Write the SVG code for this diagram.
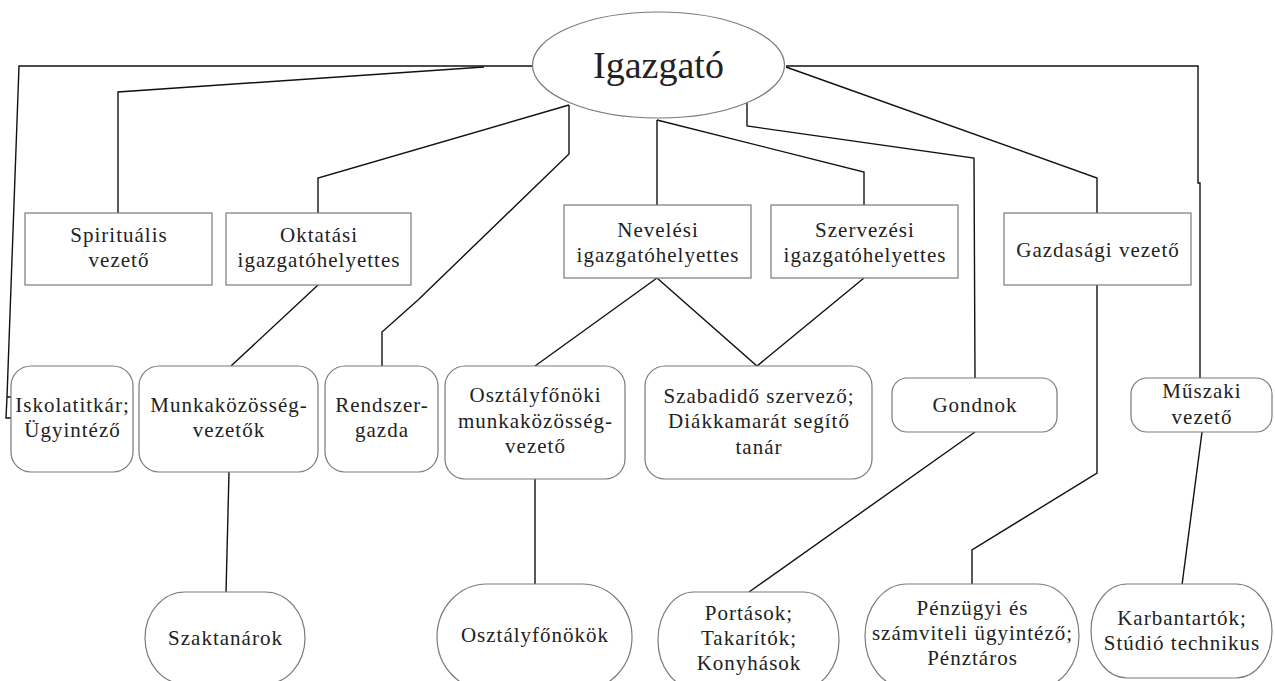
<svg xmlns="http://www.w3.org/2000/svg" width="1275" height="681" viewBox="0 0 1275 681">
<style>
.bg{fill:#ffffff}
.node{fill:#ffffff;stroke:#7a7a7a;stroke-width:1.2}
.conn{fill:none;stroke:#111;stroke-width:1.4;stroke-linejoin:miter}
.t{font-family:'Liberation Serif','Times New Roman',serif;font-size:21px;fill:#222;text-anchor:middle;letter-spacing:1px}
.big{font-size:38px;letter-spacing:0}
</style>
<rect class="bg" x="0" y="0" width="1275" height="681"/>
<g id="connectors">
<path class="conn" d="M533,66 L19,66 L7,397 L12,397 M7,397 L6,418 L12,418"/>
<path class="conn" d="M484,67 L118,92 L118,213"/>
<path class="conn" d="M569,105 L318,178 L318,213"/>
<path class="conn" d="M569,105 L569,154 L418,300 L382,332 L382,366"/>
<path class="conn" d="M318,285 L231,366"/>
<path class="conn" d="M229,472 L226,593"/>
<path class="conn" d="M657,120 L657,205"/>
<path class="conn" d="M657,120 L864,172 L864,205"/>
<path class="conn" d="M657,278 L535,366"/>
<path class="conn" d="M657,278 L757,366 L864,278"/>
<path class="conn" d="M535,479 L535,585"/>
<path class="conn" d="M747,103 L747,126 L974,158 L975,378"/>
<path class="conn" d="M975,432 L749,592"/>
<path class="conn" d="M786,67 L1097,178 L1097,213"/>
<path class="conn" d="M1097,285 L1097,473 L972,550 L972,585"/>
<path class="conn" d="M786,66 L1198,66 L1198,183 L1200,183 L1200,378"/>
<path class="conn" d="M1202,432 L1182,585"/>
</g>
<g id="igazgato">
<ellipse class="node" cx="658.5" cy="65" rx="126" ry="53"/>
<text class="t big" x="658.5" y="78">Igazgató</text>
</g>
<g id="spiritualis">
<rect class="node" x="25" y="213" width="187" height="72"/>
<text class="t" x="119" y="242">Spirituális</text>
<text class="t" x="119" y="267">vezető</text>
</g>
<g id="oktatasi">
<rect class="node" x="226" y="213" width="185" height="72"/>
<text class="t" x="319" y="242">Oktatási</text>
<text class="t" x="319" y="267">igazgatóhelyettes</text>
</g>
<g id="nevelesi">
<rect class="node" x="564" y="205" width="187" height="73"/>
<text class="t" x="658" y="237">Nevelési</text>
<text class="t" x="658" y="262">igazgatóhelyettes</text>
</g>
<g id="szervezesi">
<rect class="node" x="771" y="205" width="187" height="73"/>
<text class="t" x="865" y="237">Szervezési</text>
<text class="t" x="865" y="262">igazgatóhelyettes</text>
</g>
<g id="gazdasagi">
<rect class="node" x="1004" y="213" width="187" height="72"/>
<text class="t" x="1098" y="257">Gazdasági vezető</text>
</g>
<g id="iskolatitkar">
<rect class="node" x="11" y="366" width="122" height="106" rx="20" ry="20"/>
<text class="t" x="72.5" y="412">Iskolatitkár;</text>
<text class="t" x="72.5" y="437">Ügyintéző</text>
</g>
<g id="munkakozosseg">
<rect class="node" x="139" y="366" width="179" height="106" rx="20" ry="20"/>
<text class="t" x="229" y="412">Munkaközösség-</text>
<text class="t" x="229" y="437">vezetők</text>
</g>
<g id="rendszergazda">
<rect class="node" x="325" y="366" width="113" height="106" rx="20" ry="20"/>
<text class="t" x="382" y="412">Rendszer-</text>
<text class="t" x="382" y="437">gazda</text>
</g>
<g id="osztalyfonoki">
<rect class="node" x="445" y="366" width="180" height="113" rx="20" ry="20"/>
<text class="t" x="535.5" y="402">Osztályfőnöki</text>
<text class="t" x="535.5" y="428">munkaközösség-</text>
<text class="t" x="535.5" y="453">vezető</text>
</g>
<g id="szabadido">
<rect class="node" x="645" y="366" width="227" height="113" rx="20" ry="20"/>
<text class="t" x="759" y="403">Szabadidő szervező;</text>
<text class="t" x="759" y="428">Diákkamarát segítő</text>
<text class="t" x="759" y="454">tanár</text>
</g>
<g id="gondnok">
<rect class="node" x="892" y="378" width="165" height="54" rx="15" ry="15"/>
<text class="t" x="975" y="412">Gondnok</text>
</g>
<g id="muszaki">
<rect class="node" x="1131" y="378" width="141" height="54" rx="16" ry="16"/>
<text class="t" x="1202" y="398">Műszaki</text>
<text class="t" x="1202" y="424">vezető</text>
</g>
<g id="szaktanarok">
<rect class="node" x="145" y="592" width="160" height="92" rx="40" ry="46"/>
<text class="t" x="225.5" y="645">Szaktanárok</text>
</g>
<g id="osztalyfonokok">
<rect class="node" x="437" y="584" width="195" height="106" rx="50" ry="53"/>
<text class="t" x="535" y="642">Osztályfőnökök</text>
</g>
<g id="portasok">
<rect class="node" x="658" y="592" width="181" height="96" rx="36" ry="48"/>
<text class="t" x="749" y="620">Portások;</text>
<text class="t" x="749" y="645">Takarítók;</text>
<text class="t" x="749" y="670">Konyhások</text>
</g>
<g id="penzugyi">
<rect class="node" x="865" y="584" width="214" height="104" rx="42" ry="52"/>
<text class="t" x="972.5" y="615">Pénzügyi és</text>
<text class="t" x="972.5" y="640">számviteli ügyintéző;</text>
<text class="t" x="972.5" y="665">Pénztáros</text>
</g>
<g id="karbantartok">
<rect class="node" x="1091" y="584" width="181" height="94" rx="36" ry="47"/>
<text class="t" x="1182" y="625">Karbantartók;</text>
<text class="t" x="1182" y="650">Stúdió technikus</text>
</g>
</svg>
